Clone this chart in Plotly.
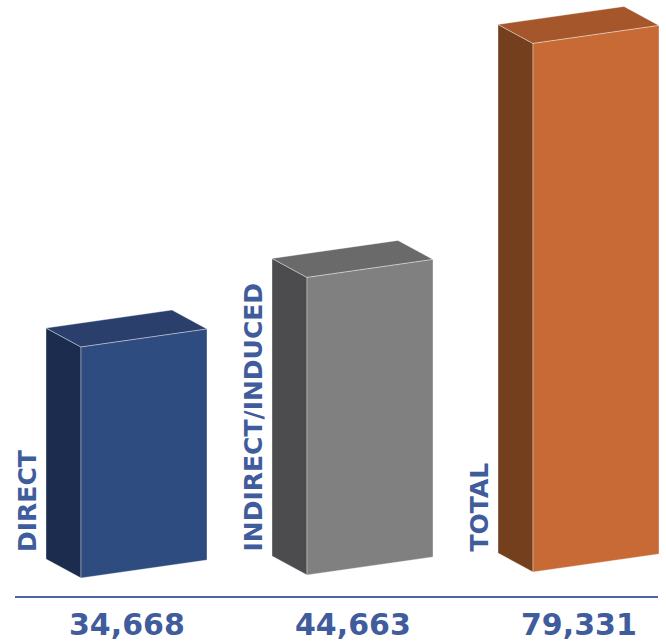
import plotly.graph_objects as go

# ---- data ----
categories = ["DIRECT", "INDIRECT/INDUCED", "TOTAL"]
values = [34668, 44663, 79331]
value_labels = ["34,668", "44,663", "79,331"]
front_colors = ["#2E4C80", "#808080", "#C86A35"]
side_colors = ["#1B2C4E", "#4C4C4E", "#733F1D"]
top_colors = ["#2B3F6D", "#6A6A6A", "#A5572B"]
text_color = "#3F5C9C"

# ---- layout geometry (pixels -> axis units) ----
W, H = 666, 643
units_per_px = 150.1          # y-axis data units per pixel
ground_px = 578               # pixel row of value 0
first_left = 81
spacing = 226
bar_w = 126
depth_dx = -35
depth_dy = 19 * units_per_px
skew = 18 * units_per_px
ground_tilt = 6 / 452 * units_per_px

ymax = ground_px * units_per_px
ymin = -(H - ground_px) * units_per_px

fig = go.Figure()

def poly(xs, ys, color):
    fig.add_trace(go.Scatter(
        x=xs + [xs[0]], y=ys + [ys[0]], mode="lines", fill="toself",
        fillcolor=color, line=dict(color="rgba(255,255,255,0.45)", width=0.8),
        hoverinfo="skip", showlegend=False))

for i, v in enumerate(values):
    xl = first_left + i * spacing
    xr = xl + bar_w
    b = (xl - first_left) * ground_tilt
    # side face
    poly([xl, xl, xl + depth_dx, xl + depth_dx],
         [b, b + v, b + v + depth_dy, b + depth_dy], side_colors[i])
    # top face
    poly([xl, xr, xr + depth_dx, xl + depth_dx],
         [b + v, b + skew + v, b + skew + v + depth_dy, b + v + depth_dy], top_colors[i])
    # front face
    poly([xl, xr, xr, xl],
         [b, b + skew, b + skew + v, b + v], front_colors[i])

    # rotated category label
    fig.add_annotation(x=xl - 54, y=1 - 554 / H, xref="x", yref="paper",
                       text="<b>%s</b>" % categories[i], textangle=-90,
                       showarrow=False, xanchor="center", yanchor="bottom",
                       font=dict(family="DejaVu Sans", size=25, color=text_color))
    # value label
    fig.add_annotation(x=xl + bar_w / 2 - 17, y=1 - 624 / H, xref="x", yref="paper",
                       text="<b>%s</b>" % value_labels[i], showarrow=False,
                       xanchor="center", yanchor="middle",
                       font=dict(family="DejaVu Sans", size=30, color=text_color))

fig.add_shape(type="line", xref="x", yref="paper", x0=15, x1=658,
              y0=1 - 597 / H, y1=1 - 597 / H,
              line=dict(color="#4A66A6", width=2))

fig.update_layout(
    width=W, height=H, margin=dict(l=0, r=0, t=0, b=0),
    paper_bgcolor="white", plot_bgcolor="white",
    xaxis=dict(range=[0, W], visible=False, fixedrange=True),
    yaxis=dict(range=[ymin, ymax], visible=False, fixedrange=True),
    showlegend=False,
)

fig.write_html("out.html",
               config={"displayModeBar": False},
               post_script="document.body.style.margin='0px';document.body.style.overflow='hidden';")
